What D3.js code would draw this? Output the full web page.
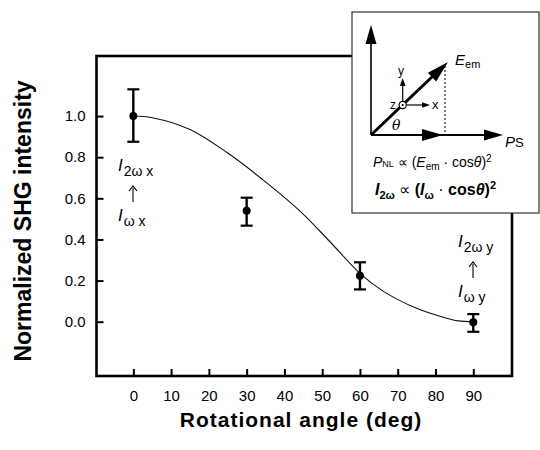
<!DOCTYPE html>
<html>
<head>
<meta charset="utf-8">
<script src="https://cdn.jsdelivr.net/npm/d3@7"></script>
<style>
  body { margin: 0; background: #fff; }
  svg { display: block; font-family: "Liberation Sans", Arial, sans-serif; }
</style>
</head>
<body>
<div id="chart"></div>
<script>
// measured points with error bars
const angles = [0, 30, 60, 90];
const intensity = [1.0, 0.54, 0.224, -0.003];
const errLow = [0.875, 0.467, 0.157, -0.049];
const errHigh = [1.13, 0.603, 0.289, 0.037];

// fitted curve
const fitAngle = [0, 5, 15, 25, 35, 44, 52, 60, 66, 75, 82, 86, 90];
const fitValue = [1.0, 0.992, 0.935, 0.82, 0.68, 0.54, 0.39, 0.235, 0.15, 0.065, 0.022, 0.004, 0.0];

const xTicks = [0, 10, 20, 30, 40, 50, 60, 70, 80, 90];
const yTicks = [0, 0.2, 0.4, 0.6, 0.8, 1.0];

const width = 540, height = 450;

const svg = d3.select("#chart")
  .append("svg")
  .attr("width", width)
  .attr("height", height);

// scales (frame is the full domain)
const x = d3.scaleLinear().domain([-9.75, 100.25]).range([96.5, 512]);
const y = d3.scaleLinear().domain([-0.264, 1.292]).range([376, 56]);

// axes with inward ticks
const xAxis = svg.append("g")
  .attr("transform", `translate(0,${y.range()[0]})`)
  .call(d3.axisBottom(x).tickValues(xTicks).tickSize(-7).tickPadding(14).tickFormat(d3.format("d")));
const yAxis = svg.append("g")
  .attr("transform", `translate(${x.range()[0]},0)`)
  .call(d3.axisLeft(y).tickValues(yTicks).tickSize(-7).tickPadding(11).tickFormat(d3.format(".1f")));

[xAxis, yAxis].forEach(a => {
  a.select(".domain").remove();
  a.selectAll(".tick line").attr("stroke", "#000").attr("stroke-width", 2);
  a.selectAll(".tick text")
    .attr("fill", "#000")
    .style("font-size", "15px")
    .style("font-family", "Liberation Sans, Arial, sans-serif");
});

// frame
svg.append("rect")
  .attr("x", x.range()[0])
  .attr("y", y.range()[1])
  .attr("width", x.range()[1] - x.range()[0])
  .attr("height", y.range()[0] - y.range()[1])
  .attr("fill", "none")
  .attr("stroke", "#000")
  .attr("stroke-width", 2.6);

// fitted curve
const line = d3.line()
  .x((d, i) => x(fitAngle[i]))
  .y(d => y(d))
  .curve(d3.curveCatmullRom.alpha(0.5));
svg.append("path")
  .attr("d", line(fitValue))
  .attr("fill", "none")
  .attr("stroke", "#111")
  .attr("stroke-width", 1.1);

// error bars and points
const pts = svg.append("g");
angles.forEach((a, i) => {
  const cx = x(a);
  pts.append("line")
    .attr("x1", cx).attr("x2", cx)
    .attr("y1", y(errLow[i])).attr("y2", y(errHigh[i]))
    .attr("stroke", "#000").attr("stroke-width", 2.4);
  [errLow[i], errHigh[i]].forEach(v => {
    pts.append("line")
      .attr("x1", cx - 6).attr("x2", cx + 6)
      .attr("y1", y(v)).attr("y2", y(v))
      .attr("stroke", "#000").attr("stroke-width", 2.2);
  });
  pts.append("circle")
    .attr("cx", cx).attr("cy", y(intensity[i]))
    .attr("r", 4).attr("fill", "#000");
});

// axis titles
svg.append("text")
  .attr("x", 301).attr("y", 427)
  .attr("text-anchor", "middle")
  .style("font-size", "21px").style("font-weight", "bold")
  .style("letter-spacing", "1px")
  .text("Rotational angle (deg)");

svg.append("text")
  .attr("transform", "translate(31,221) rotate(-90)")
  .attr("text-anchor", "middle")
  .style("font-size", "23px").style("font-weight", "bold")
  .text("Normalized SHG intensity");

// polarization annotations
function polLabel(px, py, axisName) {
  const g = svg.append("g").attr("transform", `translate(${px},${py})`);
  const t1 = g.append("text").attr("x", 0).attr("y", 0).style("font-size", "17px");
  t1.append("tspan").style("font-style", "italic").text("I");
  t1.append("tspan").attr("dx", 1).attr("dy", 5).style("font-size", "14px").text("2\u03c9 " + axisName);
  // small up arrow
  g.append("line").attr("x1", 15).attr("x2", 15).attr("y1", 31).attr("y2", 17)
    .attr("stroke", "#000").attr("stroke-width", 1.1);
  g.append("path").attr("d", "M11,20L15,15L19,20").attr("fill", "none")
    .attr("stroke", "#000").attr("stroke-width", 1.1);
  const t2 = g.append("text").attr("x", 0).attr("y", 50).style("font-size", "17px");
  t2.append("tspan").style("font-style", "italic").text("I");
  t2.append("tspan").attr("dx", 1).attr("dy", 5).style("font-size", "14px").text("\u03c9 " + axisName);
}
polLabel(118, 171, "x");
polLabel(458, 247, "y");

// inset diagram
const ins = svg.append("g");
ins.append("rect")
  .attr("x", 352).attr("y", 12).attr("width", 187).attr("height", 201)
  .attr("fill", "#fff").attr("stroke", "#333").attr("stroke-width", 1.2);

const ox = 371, oy = 135;
function tri(tip, dir, len, half) {
  const [tx, ty] = tip;
  const [dx, dy] = dir;
  const n = Math.hypot(dx, dy), ux = dx / n, uy = dy / n;
  const bx = tx - ux * len, by = ty - uy * len;
  return `M${tx},${ty}L${bx - uy * half},${by + ux * half}L${bx + uy * half},${by - ux * half}Z`;
}
// vertical axis
ins.append("line").attr("x1", ox).attr("y1", oy).attr("x2", ox).attr("y2", 40)
  .attr("stroke", "#000").attr("stroke-width", 1.6);
ins.append("path").attr("d", tri([ox, 25], [0, -1], 19, 5.5)).attr("fill", "#000");
// horizontal axis
ins.append("line").attr("x1", ox).attr("y1", oy).attr("x2", 488).attr("y2", oy)
  .attr("stroke", "#000").attr("stroke-width", 1.8);
ins.append("path").attr("d", tri([503, oy], [1, 0], 19, 5.5)).attr("fill", "#000");
ins.append("path").attr("d", tri([443, oy], [1, 0], 21, 6)).attr("fill", "#000");
// dotted projection
ins.append("line").attr("x1", 445).attr("y1", 66).attr("x2", 445).attr("y2", oy)
  .attr("stroke", "#000").attr("stroke-width", 1).attr("stroke-dasharray", "2,2");
// E_em diagonal
ins.append("line").attr("x1", ox).attr("y1", oy).attr("x2", 434).attr("y2", 75)
  .attr("stroke", "#000").attr("stroke-width", 3);
ins.append("path").attr("d", tri([448, 62], [77, -73], 22, 6)).attr("fill", "#000");
// small coordinate system
const cx0 = 402.7, cy0 = 105;
ins.append("line").attr("x1", cx0).attr("y1", cy0 - 4).attr("x2", cx0).attr("y2", 85)
  .attr("stroke", "#000").attr("stroke-width", 1.2);
ins.append("path").attr("d", tri([cx0, 78], [0, -1], 8, 2.8)).attr("fill", "#000");
ins.append("line").attr("x1", cx0 + 4).attr("y1", cy0).attr("x2", 423).attr("y2", cy0)
  .attr("stroke", "#000").attr("stroke-width", 1.2);
ins.append("path").attr("d", tri([430, cy0], [1, 0], 8, 2.8)).attr("fill", "#000");
ins.append("circle").attr("cx", cx0).attr("cy", cy0).attr("r", 3.6)
  .attr("fill", "#fff").attr("stroke", "#000").attr("stroke-width", 1.2);
ins.append("circle").attr("cx", cx0).attr("cy", cy0).attr("r", 1.1).attr("fill", "#000");
ins.append("text").attr("x", 398).attr("y", 75).style("font-size", "12px").text("y");
ins.append("text").attr("x", 432).attr("y", 109).style("font-size", "13px").text("x");
ins.append("text").attr("x", 390).attr("y", 109).style("font-size", "12px").text("z");
ins.append("text").attr("x", 392).attr("y", 130)
  .style("font-size", "14px").style("font-style", "italic")
  .style("font-family", "DejaVu Serif, serif").text("\u03b8");

// E_em label
const eLab = ins.append("text").attr("x", 455).attr("y", 65).style("font-size", "15px");
eLab.append("tspan").style("font-style", "italic").text("E");
eLab.append("tspan").attr("dy", 3).style("font-size", "11px").text("em");
// Ps label
const pLab = ins.append("text").attr("x", 505).attr("y", 147).style("font-size", "15px");
pLab.append("tspan").style("font-style", "italic").text("P");
pLab.append("tspan").style("font-size", "13px").style("font-style", "normal").text("S");

// P_NL formula
const f1 = ins.append("text").attr("x", 373).attr("y", 167).style("font-size", "14px");
f1.append("tspan").style("font-style", "italic").text("P");
f1.append("tspan").style("font-size", "9px").text("NL");
f1.append("tspan").text(" \u221d (");
f1.append("tspan").style("font-style", "italic").text("E");
f1.append("tspan").attr("dy", 3).style("font-size", "10px").text("em");
f1.append("tspan").attr("dy", -3).text(" \u00b7 cos");
f1.append("tspan").style("font-style", "italic").text("\u03b8");
f1.append("tspan").text(")");
f1.append("tspan").attr("dy", -5).style("font-size", "10px").text("2");

// I_2w formula
const f2 = ins.append("text").attr("x", 375).attr("y", 195)
  .style("font-size", "16px").style("font-weight", "bold");
f2.append("tspan").style("font-style", "italic").text("I");
f2.append("tspan").attr("dy", 4).style("font-size", "11px").text("2\u03c9");
f2.append("tspan").attr("dy", -4).style("font-weight", "normal").text(" \u221d ");
f2.append("tspan").text("(");
f2.append("tspan").style("font-style", "italic").text("I");
f2.append("tspan").attr("dy", 4).style("font-size", "11px").text("\u03c9");
f2.append("tspan").attr("dy", -4).style("font-weight", "normal").text(" \u00b7 ");
f2.append("tspan").text("cos");
f2.append("tspan").style("font-style", "italic").text("\u03b8");
f2.append("tspan").text(")");
f2.append("tspan").attr("dy", -6).style("font-size", "11px").text("2");
</script>
</body>
</html>
